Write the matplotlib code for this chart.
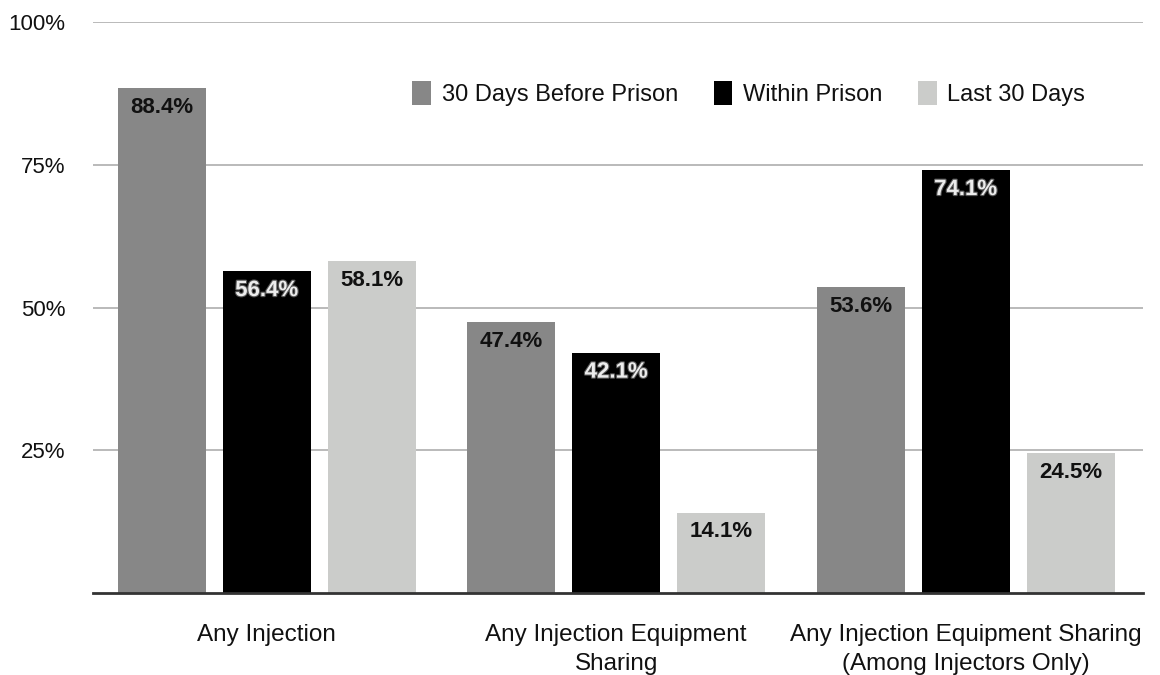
import matplotlib
matplotlib.use("Agg")
import matplotlib.pyplot as plt
import matplotlib.patheffects as pe
import numpy as np

categories = ["Any Injection",
              "Any Injection Equipment\nSharing",
              "Any Injection Equipment Sharing\n(Among Injectors Only)"]
series_names = ["30 Days Before Prison", "Within Prison", "Last 30 Days"]
before_prison = [88.4, 47.4, 53.6]
within_prison = [56.4, 42.1, 74.1]
last_30_days = [58.1, 14.1, 24.5]
y_ticks = [25, 50, 75, 100]
y_tick_labels = ["25%", "50%", "75%", "100%"]

colors = ["#878787", "#000000", "#cbccca"]

plt.rcParams["font.family"] = ["Liberation Sans", "DejaVu Sans"]

fig = plt.figure(figsize=(11.6, 6.75), dpi=100)
ax = fig.add_axes([0.0802, 0.1215, 0.9048, 0.8455])

x = np.arange(len(categories))
offsets = [-0.3, 0.0, 0.3]
width = 0.252
all_series = [before_prison, within_prison, last_30_days]

for vals, off, col, name in zip(all_series, offsets, colors, series_names):
    bars = ax.bar(x + off, vals, width, color=col, label=name, zorder=3)
    for b, v in zip(bars, vals):
        dark = col == "#000000"
        t = ax.annotate(f"{v:.1f}%", (b.get_x() + b.get_width() / 2, v),
                        xytext=(0, -14), textcoords="offset points",
                        ha="center", va="center", fontsize=16, fontweight="bold",
                        color="#ececec" if dark else "#111111", zorder=4)
        if dark:
            t.set_path_effects([pe.withStroke(linewidth=1.6, foreground="#555555")])

ax.set_xlim(-0.497, 2.506)
ax.set_ylim(0, 100)
ax.set_yticks(y_ticks)
ax.set_yticklabels(y_tick_labels, fontsize=16, color="#111111")
ax.yaxis.grid(True, color="#b4b4b4", linewidth=1.3, zorder=0)
ax.tick_params(axis="y", length=0, pad=20)
ax.tick_params(axis="x", length=0, pad=22)
ax.set_xticks(x)
ax.set_xticklabels(categories, fontsize=17.5, color="#111111",
                   linespacing=1.45, va="top")

for s in ["top", "right", "left"]:
    ax.spines[s].set_visible(False)
ax.spines["bottom"].set_color("#333333")
ax.spines["bottom"].set_linewidth(2)
ax.spines["bottom"].set_zorder(5)

leg = ax.legend(loc="center left", bbox_to_anchor=(0.284, 0.875), ncol=3,
                frameon=False, handlelength=0.8, handleheight=1.2,
                handletextpad=0.45, columnspacing=1.5,
                prop={"size": 17})
for txt in leg.get_texts():
    txt.set_color("#111111")

fig.savefig("out.png", dpi=100, facecolor="white")
